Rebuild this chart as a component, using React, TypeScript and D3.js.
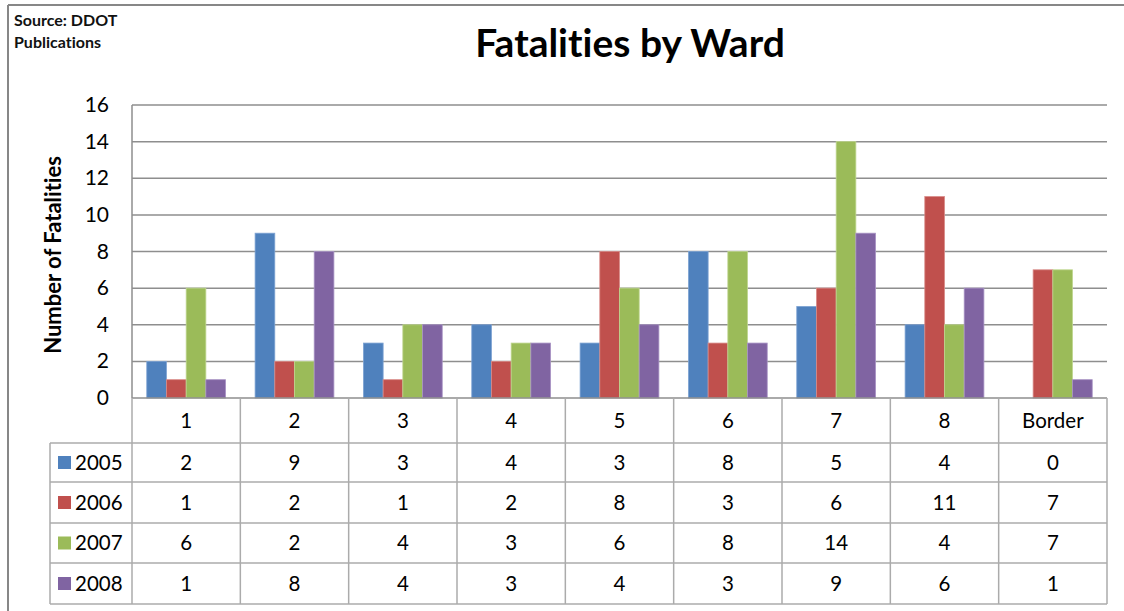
import React from "react";
import * as d3 from "d3";

const wards = ["1", "2", "3", "4", "5", "6", "7", "8", "Border"];
const years = ["2005", "2006", "2007", "2008"];
const v2005 = [2, 9, 3, 4, 3, 8, 5, 4, 0];
const v2006 = [1, 2, 1, 2, 8, 3, 6, 11, 7];
const v2007 = [6, 2, 4, 3, 6, 8, 14, 4, 7];
const v2008 = [1, 8, 4, 3, 4, 3, 9, 6, 1];
const seriesValues = [v2005, v2006, v2007, v2008];
const colors = ["#4F81BD", "#C0504D", "#9BBB59", "#8064A2"];
const strokeColors = ["#7EA3D3", "#D98A88", "#BFD68F", "#A893C4"];
const yTicks = [0, 2, 4, 6, 8, 10, 12, 14, 16];

const W = 1124;
const H = 611;
const plotLeft = 132;
const plotRight = 1107;
const plotTop = 105;
const plotBottom = 398;
const legendLeft = 50;
const rowEdges = [398, 443, 482, 523, 563, 604];

const FONT = "Lato, 'Open Sans', sans-serif";
const noLig = { fontVariantLigatures: "none", fontFeatureSettings: '"liga" 0, "clig" 0, "dlig" 0' } as React.CSSProperties;

export default function App() {
  const x = d3.scaleBand<string>().domain(wards).range([plotLeft, plotRight]).paddingInner(0).paddingOuter(0);
  const inner = d3
    .scaleBand<string>()
    .domain(years)
    .range([0, x.bandwidth()])
    .paddingInner(0)
    .paddingOuter(0.75);
  const y = d3.scaleLinear().domain([0, 16]).range([plotBottom, plotTop]);

  const gridColor = "#8E8E8E";
  const tableColor = "#ABABAB";

  return (
    <svg
      width={W}
      height={H}
      style={{ position: "absolute", left: 0, top: 0, background: "#fff" }}
      fontFamily={FONT}
    >
      {/* outer frame (top and left visible) */}
      <line x1={8} x2={W} y1={5} y2={5} stroke="#878787" strokeWidth={2} />
      <line x1={8} x2={8} y1={5} y2={H} stroke="#878787" strokeWidth={2} />

      {/* source */}
      <text x={14} y={26} fontSize={16} fontWeight="bold" fill="#111" style={noLig}>
        Source: DDOT
      </text>
      <text x={14} y={48} fontSize={16} fontWeight="bold" fill="#111" style={noLig}>
        Publications
      </text>

      {/* title */}
      <text x={630} y={57} fontSize={39} fontWeight="bold" textAnchor="middle" fill="#000" style={noLig}>
        Fatalities by Ward
      </text>

      {/* y-axis title */}
      <text
        transform={`translate(61,255) rotate(-90)`}
        fontSize={22}
        fontWeight="bold"
        textAnchor="middle"
        fill="#000"
        style={noLig}
      >
        Number of Fatalities
      </text>

      {/* gridlines */}
      {yTicks.slice(1).map((t) => (
        <line key={t} x1={plotLeft} x2={plotRight} y1={y(t)} y2={y(t)} stroke={gridColor} strokeWidth={1.5} />
      ))}
      {/* y tick labels */}
      {yTicks.map((t) => (
        <text key={t} x={109} y={y(t) + 7} fontSize={21} textAnchor="end" fill="#000">
          {t}
        </text>
      ))}
      {/* y axis line */}
      <line x1={plotLeft} x2={plotLeft} y1={plotTop} y2={plotBottom} stroke={gridColor} strokeWidth={1.5} />

      {/* bars */}
      {wards.map((w, i) => (
        <g key={w}>
          {years.map((yr, s) => {
            const val = seriesValues[s][i];
            if (val <= 0) return null;
            const bx = (x(w) as number) + (inner(yr) as number);
            return (
              <rect
                key={yr}
                x={bx}
                y={y(val)}
                width={inner.bandwidth()}
                height={plotBottom - y(val)}
                fill={colors[s]}
                stroke={strokeColors[s]}
                strokeWidth={0.8}
              />
            );
          })}
        </g>
      ))}

      {/* data table */}
      <line x1={plotLeft} x2={plotRight} y1={rowEdges[0]} y2={rowEdges[0]} stroke={gridColor} strokeWidth={1.5} />
      {rowEdges.slice(1).map((ry) => (
        <line key={ry} x1={legendLeft} x2={plotRight} y1={ry} y2={ry} stroke={tableColor} strokeWidth={1.5} />
      ))}
      <line x1={legendLeft} x2={legendLeft} y1={rowEdges[1]} y2={rowEdges[5]} stroke={tableColor} strokeWidth={1.5} />
      {wards.map((w) => (
        <line
          key={w}
          x1={x(w) as number}
          x2={x(w) as number}
          y1={rowEdges[0]}
          y2={rowEdges[5]}
          stroke={tableColor}
          strokeWidth={1.5}
        />
      ))}
      <line x1={plotRight} x2={plotRight} y1={rowEdges[0]} y2={rowEdges[5]} stroke={tableColor} strokeWidth={1.5} />

      {/* header labels */}
      {wards.map((w) => (
        <text
          key={w}
          x={(x(w) as number) + x.bandwidth() / 2}
          y={(rowEdges[0] + rowEdges[1]) / 2 + 7}
          fontSize={20.5}
          textAnchor="middle"
          fill="#000"
        >
          {w}
        </text>
      ))}

      {/* series rows */}
      {years.map((yr, s) => {
        const cy = (rowEdges[s + 1] + rowEdges[s + 2]) / 2;
        return (
          <g key={yr}>
            <rect x={58} y={cy - 6.5} width={13} height={13} fill={colors[s]} />
            <text x={75} y={cy + 7} fontSize={20.5} fill="#000">
              {yr}
            </text>
            {wards.map((w, i) => (
              <text
                key={w}
                x={(x(w) as number) + x.bandwidth() / 2}
                y={cy + 7}
                fontSize={20.5}
                textAnchor="middle"
                fill="#000"
              >
                {seriesValues[s][i]}
              </text>
            ))}
          </g>
        );
      })}
    </svg>
  );
}
